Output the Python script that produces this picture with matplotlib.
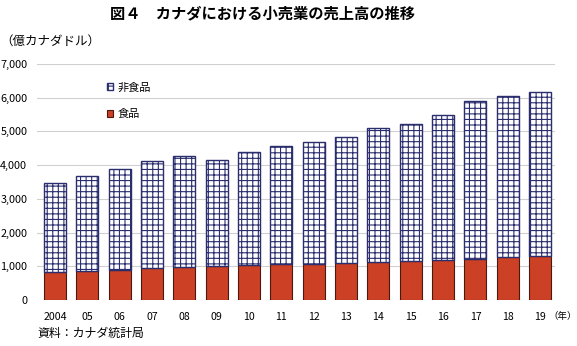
import matplotlib
matplotlib.use("Agg")
import matplotlib.pyplot as plt
import numpy as np

plt.rcParams['font.family'] = ['Noto Sans CJK JP', 'DejaVu Sans']
plt.rcParams['hatch.linewidth'] = 0.8

years = ["2004", "05", "06", "07", "08", "09", "10", "11", "12", "13", "14", "15", "16", "17", "18", "19"]
food = [830, 860, 880, 940, 970, 1000, 1030, 1060, 1060, 1100, 1130, 1150, 1190, 1220, 1270, 1300]
total = [3470, 3680, 3890, 4120, 4270, 4150, 4390, 4570, 4690, 4840, 5100, 5220, 5490, 5900, 6050, 6170]
nonfood = [t - f for t, f in zip(total, food)]

W, H = 577, 346
fig = plt.figure(figsize=(W/100, H/100), dpi=100)
ax = fig.add_axes([37/W, 1-300/H, (555-37)/W, (300-64)/H])

x = np.arange(len(years))
navy = '#2a2d6e'
red = '#cc4125'
ax.bar(x, food, width=0.68, color=red, edgecolor='#4a1a10', linewidth=0.8, zorder=3, label='食品')
plt.rcParams['hatch.color'] = navy
ax.bar(x, nonfood, bottom=food, width=0.68, color='white', edgecolor=navy,
       hatch='+++', linewidth=1.0, zorder=3, label='非食品')

ax.set_xlim(-0.56, 15.46)
ax.set_ylim(0, 7000)
ax.set_yticks(range(0, 7001, 1000))
ax.set_yticklabels([f"{v:,}" for v in range(0, 7001, 1000)], fontsize=7.8)
ax.set_xticks(x)
ax.set_xticklabels(years, fontsize=7.6)
ax.tick_params(axis='x', length=0, pad=9)
ax.tick_params(axis='y', length=0, pad=7)
for s in ax.spines.values():
    s.set_visible(False)
ax.grid(axis='y', color='#d0d0d0', linewidth=0.8, zorder=0)

# legend
h, l = ax.get_legend_handles_labels()
leg = ax.legend(h[::-1], l[::-1], loc='upper left', bbox_to_anchor=(0.115, 0.965), frameon=False,
                fontsize=8, handlelength=0.6, handleheight=0.6, labelspacing=1.5, handletextpad=0.4)

fig.text(262/W, 1-13/H, '図４　カナダにおける小売業の売上高の推移', ha='center', va='center',
         fontsize=11, fontweight='bold')
fig.text(0/W, 1-41/H, '（億カナダドル）', ha='left', va='center', fontsize=9)
fig.text(37/W, 1-333/H, '資料：カナダ統計局', ha='left', va='center', fontsize=8.6)
fig.text(576.5/W, 1-316/H, '（年）', ha='right', va='center', fontsize=6.8)

fig.savefig('out.png', dpi=100)
